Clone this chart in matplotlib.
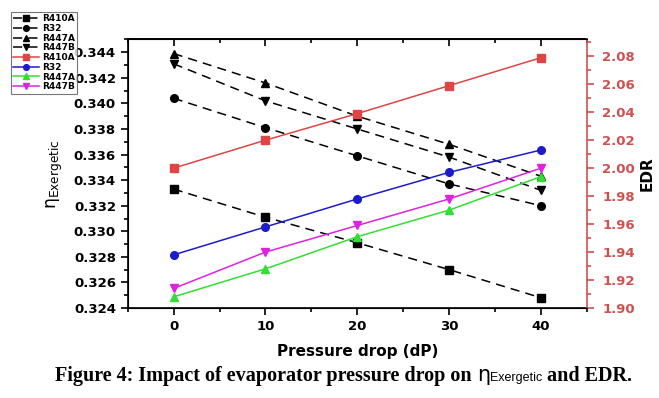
import matplotlib
matplotlib.use("Agg")
import matplotlib.pyplot as plt
from matplotlib.ticker import MultipleLocator

# pressure drop (dP)
dp = [0, 10, 20, 30, 40]

# exergetic efficiency (left axis, black dashed)
eta_r410a = [0.3333, 0.3311, 0.3291, 0.3270, 0.3248]
eta_r32 = [0.3404, 0.3381, 0.3359, 0.3337, 0.3320]
eta_r447a = [0.3439, 0.3416, 0.3390, 0.3368, 0.3343]
eta_r447b = [0.3431, 0.3402, 0.3380, 0.3358, 0.3332]

# EDR (right axis, coloured)
edr_r410a = [2.000, 2.020, 2.039, 2.059, 2.079]
edr_r32 = [1.938, 1.958, 1.978, 1.997, 2.013]
edr_r447a = [1.908, 1.928, 1.951, 1.970, 1.994]
edr_r447b = [1.914, 1.940, 1.959, 1.978, 2.000]

names = ["R410A", "R32", "R447A", "R447B"]
markers = ["s", "o", "^", "v"]
colors = ["#e04444", "#1c1ccc", "#33dd33", "#e022e0"]
red_axis = "#d05050"

plt.rcParams["font.family"] = "DejaVu Sans"
plt.rcParams["font.weight"] = "bold"
plt.rcParams["mathtext.fontset"] = "custom"
plt.rcParams["mathtext.rm"] = "DejaVu Sans:normal"
plt.rcParams["mathtext.it"] = "DejaVu Sans:normal"

fig = plt.figure(figsize=(6.59, 3.98), dpi=100)
ax = fig.add_axes([0.1938, 0.2261, 0.6969, 0.6747])
ax2 = ax.twinx()

handles = []
for vals, m, n in zip([eta_r410a, eta_r32, eta_r447a, eta_r447b], markers, names):
    h, = ax.plot(dp, vals, color="black", linestyle=(0, (6, 4)), lw=1.1,
                 marker=m, markersize=5.5, label=n)
    handles.append(h)
for vals, m, c, n in zip([edr_r410a, edr_r32, edr_r447a, edr_r447b], markers, colors, names):
    h, = ax2.plot(dp, vals, color=c, lw=1.1, marker=m, markersize=5.5, label=n)
    handles.append(h)

ax.set_xlim(-5, 45)
ax.set_ylim(0.324, 0.345)
ax2.set_ylim(1.90, 2.092)

ax.xaxis.set_major_locator(MultipleLocator(10))
ax.xaxis.set_minor_locator(MultipleLocator(5))
ax.yaxis.set_major_locator(MultipleLocator(0.002))
ax.yaxis.set_minor_locator(MultipleLocator(0.001))
ax2.yaxis.set_major_locator(MultipleLocator(0.02))
ax2.yaxis.set_minor_locator(MultipleLocator(0.01))

ax.yaxis.set_major_formatter(plt.FormatStrFormatter("%.3f"))
ax2.yaxis.set_major_formatter(plt.FormatStrFormatter("%.2f"))

ax.tick_params(axis="both", which="both", labelsize=9.5, width=1.2, direction="out")
ax.tick_params(axis="both", which="major", length=5)
ax.tick_params(axis="both", which="minor", length=3)

# top ticks pointing inward
sec = ax.secondary_xaxis("top")
sec.xaxis.set_major_locator(MultipleLocator(10))
sec.xaxis.set_minor_locator(MultipleLocator(5))
sec.tick_params(which="both", direction="in", labeltop=False, width=1.2)
sec.tick_params(which="major", length=5)
sec.tick_params(which="minor", length=3)
sec.spines["top"].set_linewidth(1.2)

ax2.tick_params(axis="y", which="both", colors=red_axis, labelsize=9.5, width=1.2, pad=6)
ax2.tick_params(axis="y", which="major", length=5)
ax2.tick_params(axis="y", which="minor", length=3)
ax2.spines["right"].set_color(red_axis)
for s in ["left", "bottom", "top"]:
    ax.spines[s].set_linewidth(1.2)
ax2.spines["right"].set_linewidth(1.2)
ax.spines["right"].set_visible(False)

ax.set_xlabel("Pressure drop (dP)", fontsize=11, fontweight="bold", labelpad=8)
ax.set_ylabel(r"$\eta_{\mathrm{Exergetic}}$", fontsize=12.5, fontweight="normal", labelpad=6)
ax2.set_ylabel("EDR", fontsize=11, fontweight="bold", labelpad=3, color="black")

leg = fig.legend(handles=handles, loc="upper left", bbox_to_anchor=(11 / 659, 1 - 12 / 398),
                 borderaxespad=0, handlelength=2.9, handletextpad=0.3, labelspacing=0.08,
                 borderpad=0.25, markerscale=0.75, frameon=True, fancybox=False,
                 edgecolor="#555555", prop={"weight": "bold", "size": 6.5})
leg.get_frame().set_linewidth(0.8)

# caption with mixed fonts
renderer = fig.canvas.get_renderer()
pieces = [
    ("Figure 4: Impact of evaporator pressure drop on ", dict(family="Liberation Serif", weight="bold", size=14.5)),
    ("\u03b7", dict(family="DejaVu Sans", weight="normal", size=15)),
    ("Exergetic", dict(family="Liberation Sans", weight="normal", size=9)),
    (" and EDR.", dict(family="Liberation Serif", weight="bold", size=14.5)),
]
y_base = 1 - 381 / 398
texts = []
for s, kw in pieces:
    t = fig.text(0, y_base, s, va="baseline", ha="left", **kw)
    texts.append(t)
widths = [t.get_window_extent(renderer).width for t in texts]
total = sum(widths)
x0 = (343.5 - total / 2) / 659
for t, w in zip(texts, widths):
    t.set_x(x0)
    x0 += w / 659

fig.savefig("out.png", dpi=100)
